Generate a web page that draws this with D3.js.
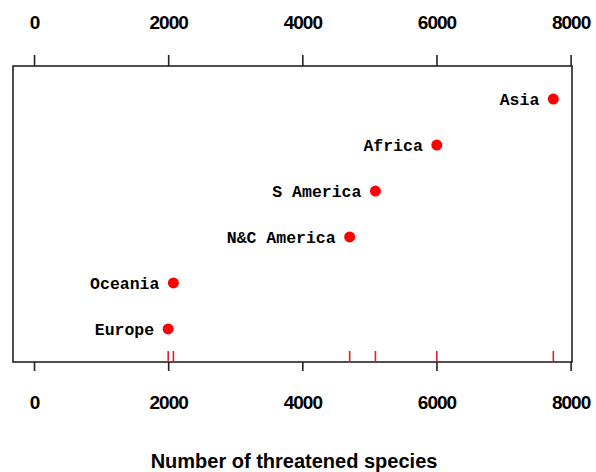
<!DOCTYPE html>
<html><head><meta charset="utf-8">
<script src="https://cdn.jsdelivr.net/npm/d3@7"></script>
<style>body{margin:0;background:#fff}</style>
</head><body>
<script>
const regions = ["Europe","Oceania","N&C America","S America","Africa","Asia"];
const threatened = [2000, 2078, 4706, 5090, 6005, 7742];
const tickValues = [0, 2000, 4000, 6000, 8000];
const xTitle = "Number of threatened species";

(function(){
const W = 596, H = 472;
const box = {left: 13, right: 572, top: 66, bottom: 362};
const svg = d3.select("body").append("svg").attr("width", W).attr("height", H);

const maxV = d3.max(threatened);
const x = d3.scaleLinear().domain([-0.0405 * maxV, 1.036 * maxV]).range([box.left, box.right]);
const y = d3.scaleLinear().domain([0.28, regions.length + 0.72]).range([box.bottom, box.top]);

// box
svg.append("rect").attr("x", box.left).attr("y", box.top)
  .attr("width", box.right - box.left).attr("height", box.bottom - box.top)
  .attr("fill", "none").attr("stroke", "#222").attr("stroke-width", 1.6);

const axisFont = "'Liberation Sans', Arial, sans-serif";
const gTop = svg.append("g").attr("transform", `translate(0,${box.top})`)
  .call(d3.axisTop(x).tickValues(tickValues).tickSize(11).tickPadding(26).tickFormat(d3.format("d")));
const gBot = svg.append("g").attr("transform", `translate(0,${box.bottom})`)
  .call(d3.axisBottom(x).tickValues(tickValues).tickSize(9).tickPadding(25).tickFormat(d3.format("d")));
[gTop, gBot].forEach(g => {
  g.select(".domain").remove();
  g.selectAll(".tick line").attr("stroke", "#222").attr("stroke-width", 1.6);
  g.selectAll(".tick text").attr("fill", "#000").style("font-family", axisFont)
    .style("font-size", "19px").style("font-weight", "bold").style("letter-spacing", "-1px");
});

// rug
svg.append("g").selectAll("line").data(threatened).join("line")
  .attr("x1", d => x(d)).attr("x2", d => x(d))
  .attr("y1", box.bottom).attr("y2", box.bottom - 11)
  .attr("stroke", "#e0202a").attr("stroke-width", 1.6);

// points
svg.append("g").selectAll("circle").data(threatened).join("circle")
  .attr("cx", d => x(d)).attr("cy", (d, i) => y(i + 1)).attr("r", 5.5)
  .attr("fill", "#ff0000");

// labels
svg.append("g").selectAll("text").data(regions).join("text")
  .attr("x", (d, i) => x(threatened[i]) - 14).attr("y", (d, i) => y(i + 1))
  .attr("dy", "0.35em").attr("text-anchor", "end")
  .style("font-family", "'Liberation Mono', 'Courier New', monospace")
  .style("font-size", "16.5px").style("font-weight", "bold")
  .text(d => d);

// title
svg.append("text").attr("x", 294).attr("y", 468)
  .attr("text-anchor", "middle").style("font-family", axisFont)
  .style("font-size", "20px").style("font-weight", "bold").text(xTitle);
})();
</script>
</body></html>
